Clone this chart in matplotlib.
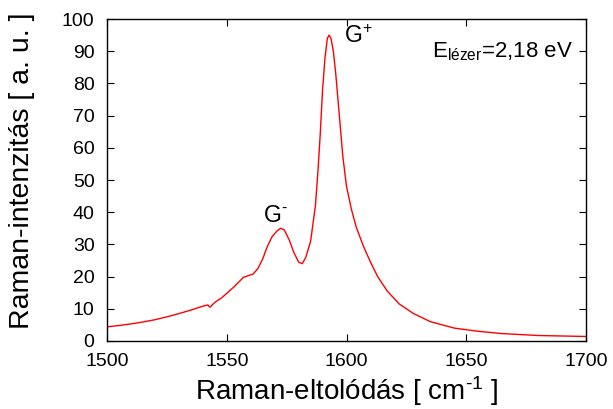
import numpy as np
import matplotlib.pyplot as plt

plt.rcParams['font.family'] = ['Liberation Sans', 'DejaVu Sans']
plt.rcParams['mathtext.default'] = 'regular'

# Raman-eltolódás (cm^-1) és intenzitás (a. u.)
eltolodas = [1500, 1505, 1510, 1515, 1520, 1525, 1530, 1535, 1540, 1542, 1543,
             1545, 1548, 1550, 1553, 1555, 1557, 1559, 1561, 1563, 1565, 1567,
             1569, 1571, 1572.5, 1574, 1576, 1578, 1580, 1581.5, 1583, 1585,
             1587, 1588, 1589, 1590, 1591, 1592, 1592.7, 1593.5, 1594.5, 1595.5,
             1597, 1598.5, 1600, 1602, 1604, 1607, 1610, 1613, 1617, 1622, 1628,
             1635, 1645, 1655, 1665, 1680, 1700]
intenzitas = [4.4, 4.8, 5.3, 5.9, 6.6, 7.5, 8.5, 9.6, 10.8, 11.2, 10.5,
              12.0, 13.5, 14.8, 16.8, 18.3, 19.8, 20.3, 20.8, 22.5, 25.5, 29.5,
              32.5, 34.2, 35.0, 34.5, 31.5, 27.5, 24.5, 24.0, 26.0, 31.0,
              42.0, 52.0, 64.0, 78.0, 88.0, 94.0, 95.0, 94.0, 90.0, 83.0,
              70.0, 57.0, 48.0, 41.0, 35.5, 29.5, 24.5, 20.0, 15.5, 11.5, 8.5,
              6.0, 4.0, 3.0, 2.3, 1.7, 1.4]

x_ticks = [1500, 1550, 1600, 1650, 1700]
y_ticks = list(range(0, 101, 10))

fig = plt.figure(figsize=(6.13, 4.09), dpi=100)
ax = fig.add_axes([0.1746, 0.1663, 0.7814, 0.7872])

ax.plot(eltolodas, intenzitas, color='red', linewidth=1.0)

ax.set_xlim(1500, 1700)
ax.set_ylim(0, 100)
ax.set_xticks(x_ticks)
ax.set_yticks(y_ticks)
ax.tick_params(direction='in', top=True, right=True, length=5, width=0.8,
               labelsize=14, pad=9)
for s in ax.spines.values():
    s.set_linewidth(1.0)

ax.set_xlabel('Raman-eltolódás [ cm$^{\u20101}$ ]', fontsize=20, labelpad=3)
ax.set_ylabel('Raman-intenzitás [ a. u. ]', fontsize=20.5)
ax.yaxis.set_label_coords(-0.15, 0.528)

ax.text(1565.1, 37.0, 'G$^{\u2010}$', fontsize=16.5, ha='left', va='baseline')
ax.text(1599, 92.5, 'G$^{+}$', fontsize=16.5, ha='left', va='baseline')
ax.text(1694.4, 88.2, 'E$_{lézer}$=2,18 eV', fontsize=16, ha='right', va='baseline')

fig.savefig('out.png', dpi=100)
